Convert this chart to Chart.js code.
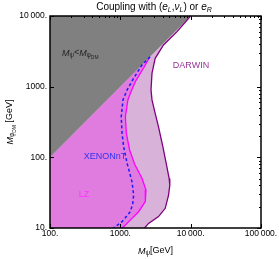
<!DOCTYPE html>
<html>
<head>
<meta charset="utf-8">
<script src="https://cdn.jsdelivr.net/npm/chart.js@4.4.0/dist/chart.umd.min.js"></script>
<style>
  html, body { margin: 0; padding: 0; background: #fff; }
</style>
</head>
<body>
<canvas id="c" width="279" height="259"></canvas>
<script>
// Limites (M_psi, M_phiDM) en GeV
const darwinX = [9900, 6400, 4110, 3130, 2820, 2730, 2820, 3130, 3490, 4030, 4490, 4950, 5050, 4840, 4350, 3490, 2520, 2210];
const darwinY = [9900, 6000, 3890, 2520, 1550, 900, 650, 420, 270, 141, 82, 50, 40, 29, 19, 14.5, 11.6, 10];

const lzX = [2600, 2150, 1630, 1390, 1280, 1180, 1217, 1355, 1600, 2030, 2316, 2265, 1820, 1466, 1114, 1057];
const lzY = [2600, 1850, 1175, 805, 647, 376, 219, 127, 80, 50.5, 34.5, 23.6, 17, 13.7, 10.4, 10];

const xenonX = [2650, 2030, 1545, 1245, 1090, 1030, 1057, 1114, 1250, 1466, 1545, 1500, 1387, 1057, 800];
const xenonY = [2650, 2027, 1313, 897, 647, 376, 219, 141, 82, 45, 29.3, 22, 17, 12.3, 10];

const xTicks = [100, 1000, 10000, 100000];
const xTickLabels = ['100.', '1000.', '10\u2009000.', '100\u2009000.'];
const yTicks = [10, 100, 1000, 10000];
const yTickLabels = ['10.', '100.', '1000.', '10\u2009000.'];

const xMin = 100, xMax = 100000, yMin = 10, yMax = 10000;

const FAM = '"Liberation Sans", Arial, sans-serif';

function pts(xs, ys) {
    return xs.map((x, i) => ({ x: x, y: ys[i] }));
}

// region bajo la diagonal, cerrada por la esquina inferior izquierda
function region(xs, ys) {
    return pts(xs, ys).concat([{ x: xMin, y: yMin }, { x: xMin, y: xMin }]);
}

// texto con subindices: [texto, tipo] -> n normal, i italica, s sub, si sub italica, ss sub-sub
function rich(ctx, parts, x, y, size, align, color) {
    const spec = k => {
        if (k === 'i') return { f: 'italic ' + size + 'px ' + FAM, dy: 0 };
        if (k === 's') return { f: (size * 0.7) + 'px ' + FAM, dy: size * 0.3 };
        if (k === 'si') return { f: 'italic ' + (size * 0.7) + 'px ' + FAM, dy: size * 0.3 };
        if (k === 'ss') return { f: (size * 0.55) + 'px ' + FAM, dy: size * 0.5 };
        return { f: size + 'px ' + FAM, dy: 0 };
    };
    ctx.save();
    ctx.fillStyle = color;
    ctx.textBaseline = 'middle';
    ctx.textAlign = 'left';
    let w = 0;
    parts.forEach(p => { ctx.font = spec(p[1]).f; w += ctx.measureText(p[0]).width; });
    let cx = align === 'center' ? x - w / 2 : (align === 'right' ? x - w : x);
    parts.forEach(p => {
        const s = spec(p[1]);
        ctx.font = s.f;
        ctx.fillText(p[0], cx, y + s.dy);
        cx += ctx.measureText(p[0]).width;
    });
    ctx.restore();
}

const decor = {
    id: 'decor',
    afterDatasetsDraw(chart) {
        const ctx = chart.ctx;
        const a = chart.chartArea;
        const sx = chart.scales.x, sy = chart.scales.y;

        // marcas de escala hacia dentro
        ctx.save();
        ctx.strokeStyle = '#000';
        ctx.lineWidth = 1;
        ctx.beginPath();
        for (let d = 100; d <= xMax; d *= 10) {
            for (let k = 1; k < 10; k++) {
                const v = d * k;
                if (v > xMax) break;
                const px = Math.round(sx.getPixelForValue(v)) + 0.5;
                const len = k === 1 ? 4 : 2;
                if (k === 1) { ctx.moveTo(px, a.bottom); ctx.lineTo(px, a.bottom - len); }
                ctx.moveTo(px, a.top); ctx.lineTo(px, a.top + len);
            }
        }
        for (let d = 10; d <= yMax; d *= 10) {
            for (let k = 1; k < 10; k++) {
                const v = d * k;
                if (v > yMax) break;
                const py = Math.round(sy.getPixelForValue(v)) + 0.5;
                const len = k === 1 ? 4 : 2;
                if (k === 1) { ctx.moveTo(a.left, py); ctx.lineTo(a.left + len, py); }
                ctx.moveTo(a.right, py); ctx.lineTo(a.right - len, py);
            }
        }
        ctx.stroke();

        // marco
        ctx.lineWidth = 1.5;
        ctx.strokeRect(a.left, a.top, a.right - a.left, a.bottom - a.top);
        ctx.restore();

        // etiquetas dentro del grafico
        rich(ctx, [['M', 'i'], ['\u03C8', 's'], ['<', 'n'], ['M', 'i'], ['\u03C6', 's'], ['DM', 'ss']], 62, 53, 9, 'left', '#222');
        rich(ctx, [['DARWIN', 'n']], 191, 66, 9, 'center', '#993399');
        rich(ctx, [['XENONnT', 'n']], 105, 157, 9, 'center', '#3333ee');
        rich(ctx, [['LZ', 'n']], 84, 195, 9, 'center', '#ff33ff');
    },
    afterDraw(chart) {
        const ctx = chart.ctx;
        const a = chart.chartArea;
        rich(ctx, [['Coupling with (', 'n'], ['e', 'i'], ['L', 'si'], [',', 'n'], ['\u03BD', 'i'], ['L', 'si'],
                   [') or ', 'n'], ['e', 'i'], ['R', 'si']], 154, 7, 10, 'center', '#000');
        rich(ctx, [['M', 'i'], ['\u03C8', 's'], ['[GeV]', 'n']], (a.left + a.right) / 2, 251, 9, 'center', '#000');
        ctx.save();
        ctx.translate(10, (a.top + a.bottom) / 2);
        ctx.rotate(-Math.PI / 2);
        rich(ctx, [['M', 'i'], ['\u03C6', 's'], ['DM', 'ss'], [' [GeV]', 'n']], 0, 0, 9, 'center', '#000');
        ctx.restore();
    }
};

new Chart(document.getElementById('c'), {
    type: 'scatter',
    data: {
        datasets: [
            {
                label: 'DARWIN region',
                data: region(darwinX, darwinY),
                showLine: true, fill: 'shape', tension: 0,
                backgroundColor: '#d8b2d8', borderColor: 'rgba(0,0,0,0)', borderWidth: 0,
                pointRadius: 0, order: 10
            },
            {
                label: 'LZ region',
                data: region(lzX, lzY),
                showLine: true, fill: 'shape', tension: 0,
                backgroundColor: '#e07ce0', borderColor: 'rgba(0,0,0,0)', borderWidth: 0,
                pointRadius: 0, order: 9
            },
            {
                label: 'M_psi < M_phiDM',
                data: [{ x: xMin, y: xMin }, { x: yMax, y: yMax }, { x: xMin, y: yMax }],
                showLine: true, fill: 'shape', tension: 0,
                backgroundColor: '#808080', borderColor: 'rgba(0,0,0,0)', borderWidth: 0,
                pointRadius: 0, order: 8
            },
            {
                label: 'DARWIN',
                data: pts(darwinX, darwinY),
                showLine: true, fill: false, tension: 0,
                borderColor: '#800080', borderWidth: 1.3,
                pointRadius: 0, order: 3
            },
            {
                label: 'LZ',
                data: pts(lzX, lzY),
                showLine: true, fill: false, tension: 0,
                borderColor: '#ff00ff', borderWidth: 1.3,
                pointRadius: 0, order: 2
            },
            {
                label: 'XENONnT',
                data: pts(xenonX, xenonY),
                showLine: true, fill: false, tension: 0,
                borderColor: '#1a1aff', borderWidth: 1.5, borderDash: [3, 2.5],
                pointRadius: 0, order: 1
            }
        ]
    },
    options: {
        responsive: false,
        devicePixelRatio: 1,
        animation: false,
        layout: { padding: { top: 16, right: 18, bottom: 0, left: 0 } },
        plugins: {
            legend: { display: false },
            tooltip: { enabled: false },
            title: { display: false }
        },
        scales: {
            x: {
                type: 'logarithmic',
                min: xMin, max: xMax,
                afterBuildTicks: s => { s.ticks = xTicks.map(v => ({ value: v })); },
                afterFit: s => { s.height = 31; },
                ticks: {
                    callback: (v, i) => xTickLabels[i],
                    font: { family: FAM, size: 8.5 },
                    color: '#000', padding: 1, maxRotation: 0, autoSkip: false
                },
                grid: { display: false, drawTicks: false },
                border: { display: false }
            },
            y: {
                type: 'logarithmic',
                min: yMin, max: yMax,
                afterBuildTicks: s => { s.ticks = yTicks.map(v => ({ value: v })); },
                afterFit: s => { s.width = 50; },
                ticks: {
                    callback: (v, i) => yTickLabels[i],
                    font: { family: FAM, size: 8.5 },
                    color: '#000', padding: 3, autoSkip: false
                },
                grid: { display: false, drawTicks: false },
                border: { display: false }
            }
        }
    },
    plugins: [decor]
});
</script>
</body>
</html>
